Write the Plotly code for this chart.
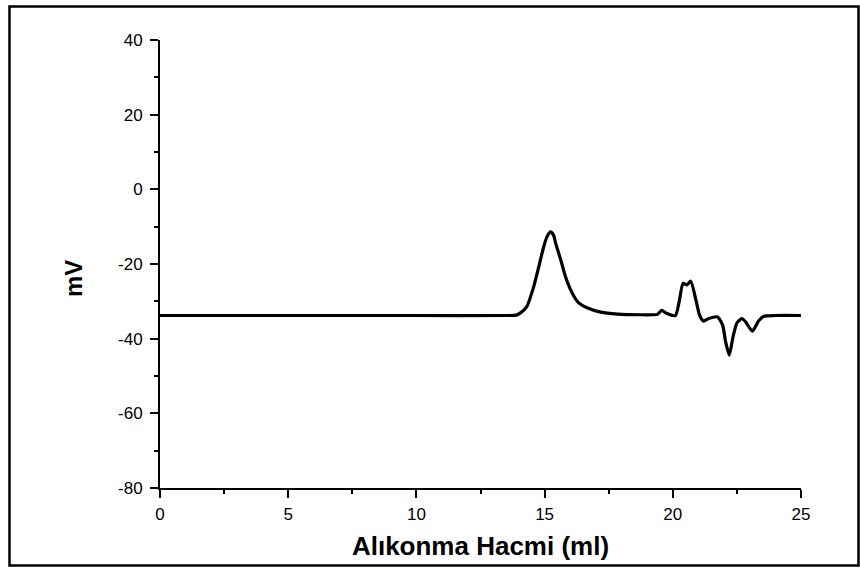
import plotly.graph_objects as go

# Retention volume (ml) and detector signal (mV)
volume = [0.0, 5.0, 10.0, 13.5, 13.9, 14.06, 14.3, 14.57, 14.77, 14.96, 15.1, 15.23,
          15.35, 15.43, 15.63, 15.82, 16.02, 16.3, 16.68, 17.19, 17.85, 18.75, 19.2,
          19.4, 19.57, 19.75, 20.1, 20.25, 20.4, 20.55, 20.7, 20.9, 21.05, 21.2,
          21.4, 21.75, 21.95, 22.05, 22.2, 22.35, 22.5, 22.7, 22.85, 23.1, 23.35,
          23.55, 24.0, 25.0]
signal = [-33.8, -33.8, -33.8, -33.8, -33.7, -33.1, -31.5, -26.2, -20.8, -15.5, -12.6, -11.4,
          -12.3, -14.4, -18.9, -23.5, -27.0, -30.2, -31.8, -32.9, -33.4, -33.6, -33.6,
          -33.5, -32.4, -33.2, -33.8, -30.0, -25.2, -25.6, -24.6, -29.6, -33.8, -35.3,
          -34.6, -34.2, -36.5, -40.5, -44.4, -39.5, -35.8, -34.6, -35.6, -38.0, -35.2,
          -34.0, -33.8, -33.8]

x_ticks = [0, 5, 10, 15, 20, 25]
y_ticks = [-80, -60, -40, -20, 0, 20, 40]

FONT = "Liberation Sans, Arial, sans-serif"

fig = go.Figure()
fig.add_trace(go.Scatter(
    x=volume, y=signal, mode="lines",
    line=dict(color="black", width=3.2, shape="spline", smoothing=0.6),
    showlegend=False, hoverinfo="skip"))

axis_common = dict(
    showgrid=False, zeroline=False, showline=True, linecolor="black", linewidth=2,
    ticks="outside", ticklen=8, tickwidth=2, tickcolor="black",
    tickfont=dict(family=FONT, size=17, color="black"),
    mirror=False,
)

fig.update_xaxes(
    range=[0, 25], tickvals=x_ticks, ticktext=[str(v) for v in x_ticks],
    minor=dict(ticks="outside", ticklen=4, tickwidth=2, tickcolor="black", dtick=2.5, tick0=0),
    ticklabelstandoff=2,
    title=dict(text="<b>Alıkonma Hacmi (ml)</b>", standoff=13,
               font=dict(family=FONT, size=26, color="black")),
    **axis_common)
fig.update_yaxes(
    range=[-80, 40], tickvals=y_ticks, ticktext=[str(v) for v in y_ticks],
    minor=dict(ticks="outside", ticklen=4, tickwidth=2, tickcolor="black", dtick=10, tick0=0),
    ticklabelstandoff=4,
    **axis_common)

W, H = 860, 568
ml, mr, mt, mb = 160, 59, 40, 80
pw, ph = W - ml - mr, H - mt - mb

def px_x(p):
    return (p - ml) / pw

def px_y(p):
    return (H - mb - p) / ph

fig.add_annotation(text="<b>mV</b>", xref="paper", yref="paper",
                   x=px_x(73), y=px_y(278), textangle=-90, showarrow=False,
                   xanchor="center", yanchor="middle",
                   font=dict(family=FONT, size=24, color="black"))

fig.add_shape(type="rect", xref="paper", yref="paper",
              x0=px_x(9.5), x1=px_x(858.5), y0=px_y(565.5), y1=px_y(6.5),
              line=dict(color="black", width=2.5), fillcolor="rgba(0,0,0,0)", layer="above")

fig.update_layout(
    width=W, height=H,
    margin=dict(l=ml, r=mr, t=mt, b=mb, pad=0),
    paper_bgcolor="white", plot_bgcolor="white",
    font=dict(family=FONT, color="black"),
)

fig.write_html("out.html")
